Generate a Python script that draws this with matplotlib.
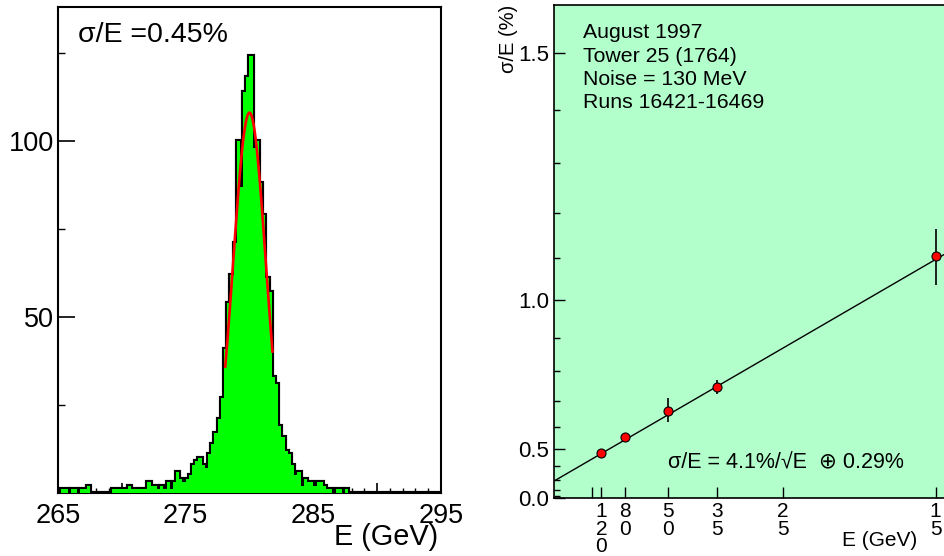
import numpy as np
import matplotlib.pyplot as plt
from matplotlib.ticker import MultipleLocator, FuncFormatter

plt.rcParams['font.family'] = ['Liberation Sans', 'DejaVu Sans']

W, H = 945, 556

# left panel: energy spectrum, 0.25 GeV bins from 265 to 295 GeV
bin_lo, bin_hi, bin_w = 265.0, 295.0, 0.25
counts = [0, 1, 1, 0, 1, 1, 0, 1, 1, 2,
          0, 0, 0, 0, 0, 0, 0, 1, 1, 1,
          1, 1, 2, 1, 1, 1, 1, 1, 3, 2,
          2, 1, 2, 1, 3, 1, 3, 6, 4, 3,
          4, 5, 8, 9, 10, 8, 7, 11, 14, 17,
          21, 27, 41, 54, 62, 71, 100, 87, 114, 118,
          124, 98, 100, 88, 79, 61, 57, 33, 31, 19,
          16, 12, 11, 8, 5, 6, 2, 4, 3, 3,
          2, 3, 3, 2, 1, 1, 0, 1, 1, 0,
          1, 0, 0, 0, 0, 0, 0, 0, 0, 0,
          0, 0, 0, 0, 0, 0, 0, 0, 0, 0,
          0, 0, 0, 0, 0, 0, 0, 0, 0, 0]
# gaussian fit
fit_amp, fit_mean, fit_sigma = 108.0, 280.0, 1.28
fit_lo, fit_hi = 278.1, 281.8
res_label = 'σ/E =0.45%'

# right panel: resolution vs beam energy
energies = [120, 80, 50, 35, 15]
resolution = [0.477, 0.553, 0.664, 0.749, 1.105]
err_low = [0.01, 0.01, 0.046, 0.023, 0.067]
err_high = [0.01, 0.01, 0.047, 0.024, 0.060]
stoch, const = 4.1, 0.29
tick_energies = [150, 120, 80, 50, 35, 25, 15]
info_lines = ['August 1997', 'Tower 25 (1764)', 'Noise = 130 MeV', 'Runs 16421-16469']
fit_text = 'σ/E = 4.1%/√E  ⊕ 0.29%'


def fx(x):
    return x / W


def fy(y):
    return 1 - y / H


def plot_spectrum(fig):
    ax = fig.add_axes([fx(58), fy(493), 383 / W, 486 / H])
    edges = np.arange(bin_lo, bin_hi + bin_w / 2, bin_w)
    ax.stairs(counts, edges, color='black', lw=3.0, zorder=2)
    ax.stairs(counts, edges, fill=True, color='#00ff00', lw=0, zorder=3)

    xs = np.linspace(fit_lo, fit_hi, 200)
    ax.plot(xs, fit_amp * np.exp(-0.5 * ((xs - fit_mean) / fit_sigma) ** 2),
            color='red', lw=1.9, zorder=4)

    ax.set_xlim(bin_lo, bin_hi)
    ax.set_ylim(0, 138)
    ax.xaxis.set_major_locator(MultipleLocator(5))
    ax.xaxis.set_minor_locator(MultipleLocator(1))
    ax.xaxis.set_major_formatter(FuncFormatter(
        lambda v, p: '%d' % v if round(v) % 10 == 5 else ''))
    ax.yaxis.set_major_locator(MultipleLocator(50))
    ax.yaxis.set_minor_locator(MultipleLocator(25))
    ax.yaxis.set_major_formatter(FuncFormatter(
        lambda v, p: '%d' % v if v > 0 else ''))
    ax.tick_params(axis='x', which='major', direction='in', length=7,
                   width=1.2, labelsize=19.5, pad=7)
    ax.tick_params(axis='x', which='minor', direction='in', length=3.5, width=1.0)
    ax.tick_params(axis='y', which='major', direction='in', length=12,
                   width=1.2, labelsize=19.5, pad=3)
    ax.tick_params(axis='y', which='minor', direction='in', length=5, width=1.0)
    for s in ax.spines.values():
        s.set_linewidth(1.5)

    fig.text(fx(438), fy(537), 'E (GeV)', ha='right', va='center', fontsize=20.8)
    fig.text(fx(78), fy(35), res_label, ha='left', va='center', fontsize=20.5)


def plot_resolution(fig):
    ax = fig.add_axes([fx(553.5), fy(498), 0.07 * 5731 / W, 493 / H])
    ax.set_facecolor('#b3ffcc')
    ax.set_yscale('function', functions=(lambda y: np.square(y),
                                         lambda y: np.sqrt(np.clip(y, 0, None))))

    xs = np.linspace(0, 0.07, 100)
    ax.plot(xs, np.sqrt(stoch ** 2 * xs + const ** 2), color='black', lw=1.0, zorder=2)

    inv_e = [1.0 / e for e in energies]
    ax.errorbar(inv_e, resolution, yerr=[err_low, err_high], fmt='o',
                color='black', mfc='red', mec='black', mew=0.8, ms=6.5,
                elinewidth=1.2, capsize=0, zorder=3)

    ax.set_xlim(0, 0.07)
    ax.set_ylim(0, 1.578)
    ax.set_yticks([0.0, 0.5, 1.0, 1.5], ['0.0', '0.5', '1.0', '1.5'])
    ax.set_yticks([v / 10 for v in range(1, 15) if v % 5], minor=True)
    ax.set_xticks([1.0 / e for e in tick_energies],
                  ['' if e == 150 else '\n'.join(str(e)) for e in tick_energies])
    for lbl in ax.get_xticklabels():
        lbl.set_linespacing(0.9)
    ax.tick_params(axis='x', which='major', direction='in', length=8,
                   width=1.0, labelsize=15, pad=3)
    ax.tick_params(axis='y', which='major', direction='in', length=8,
                   width=1.0, labelsize=16, pad=3)
    ax.tick_params(axis='y', which='minor', direction='in', length=4, width=1.0)
    for s in ax.spines.values():
        s.set_linewidth(1.2)

    fig.text(fx(509), fy(5), 'σ/E (%)', rotation=90, ha='center', va='top', fontsize=14.5)
    fig.text(fx(917), fy(541), 'E (GeV)', ha='right', va='center', fontsize=15)
    for i, line in enumerate(info_lines):
        fig.text(fx(583), fy(33 + 23.2 * i), line, ha='left', va='center', fontsize=15.3)
    fig.text(fx(668), fy(463), fit_text, ha='left', va='center', fontsize=15.5)


def main():
    fig = plt.figure(figsize=(W / 100, H / 100), dpi=100)
    plot_spectrum(fig)
    plot_resolution(fig)
    fig.savefig('out.png', dpi=100)


if __name__ == '__main__':
    main()
